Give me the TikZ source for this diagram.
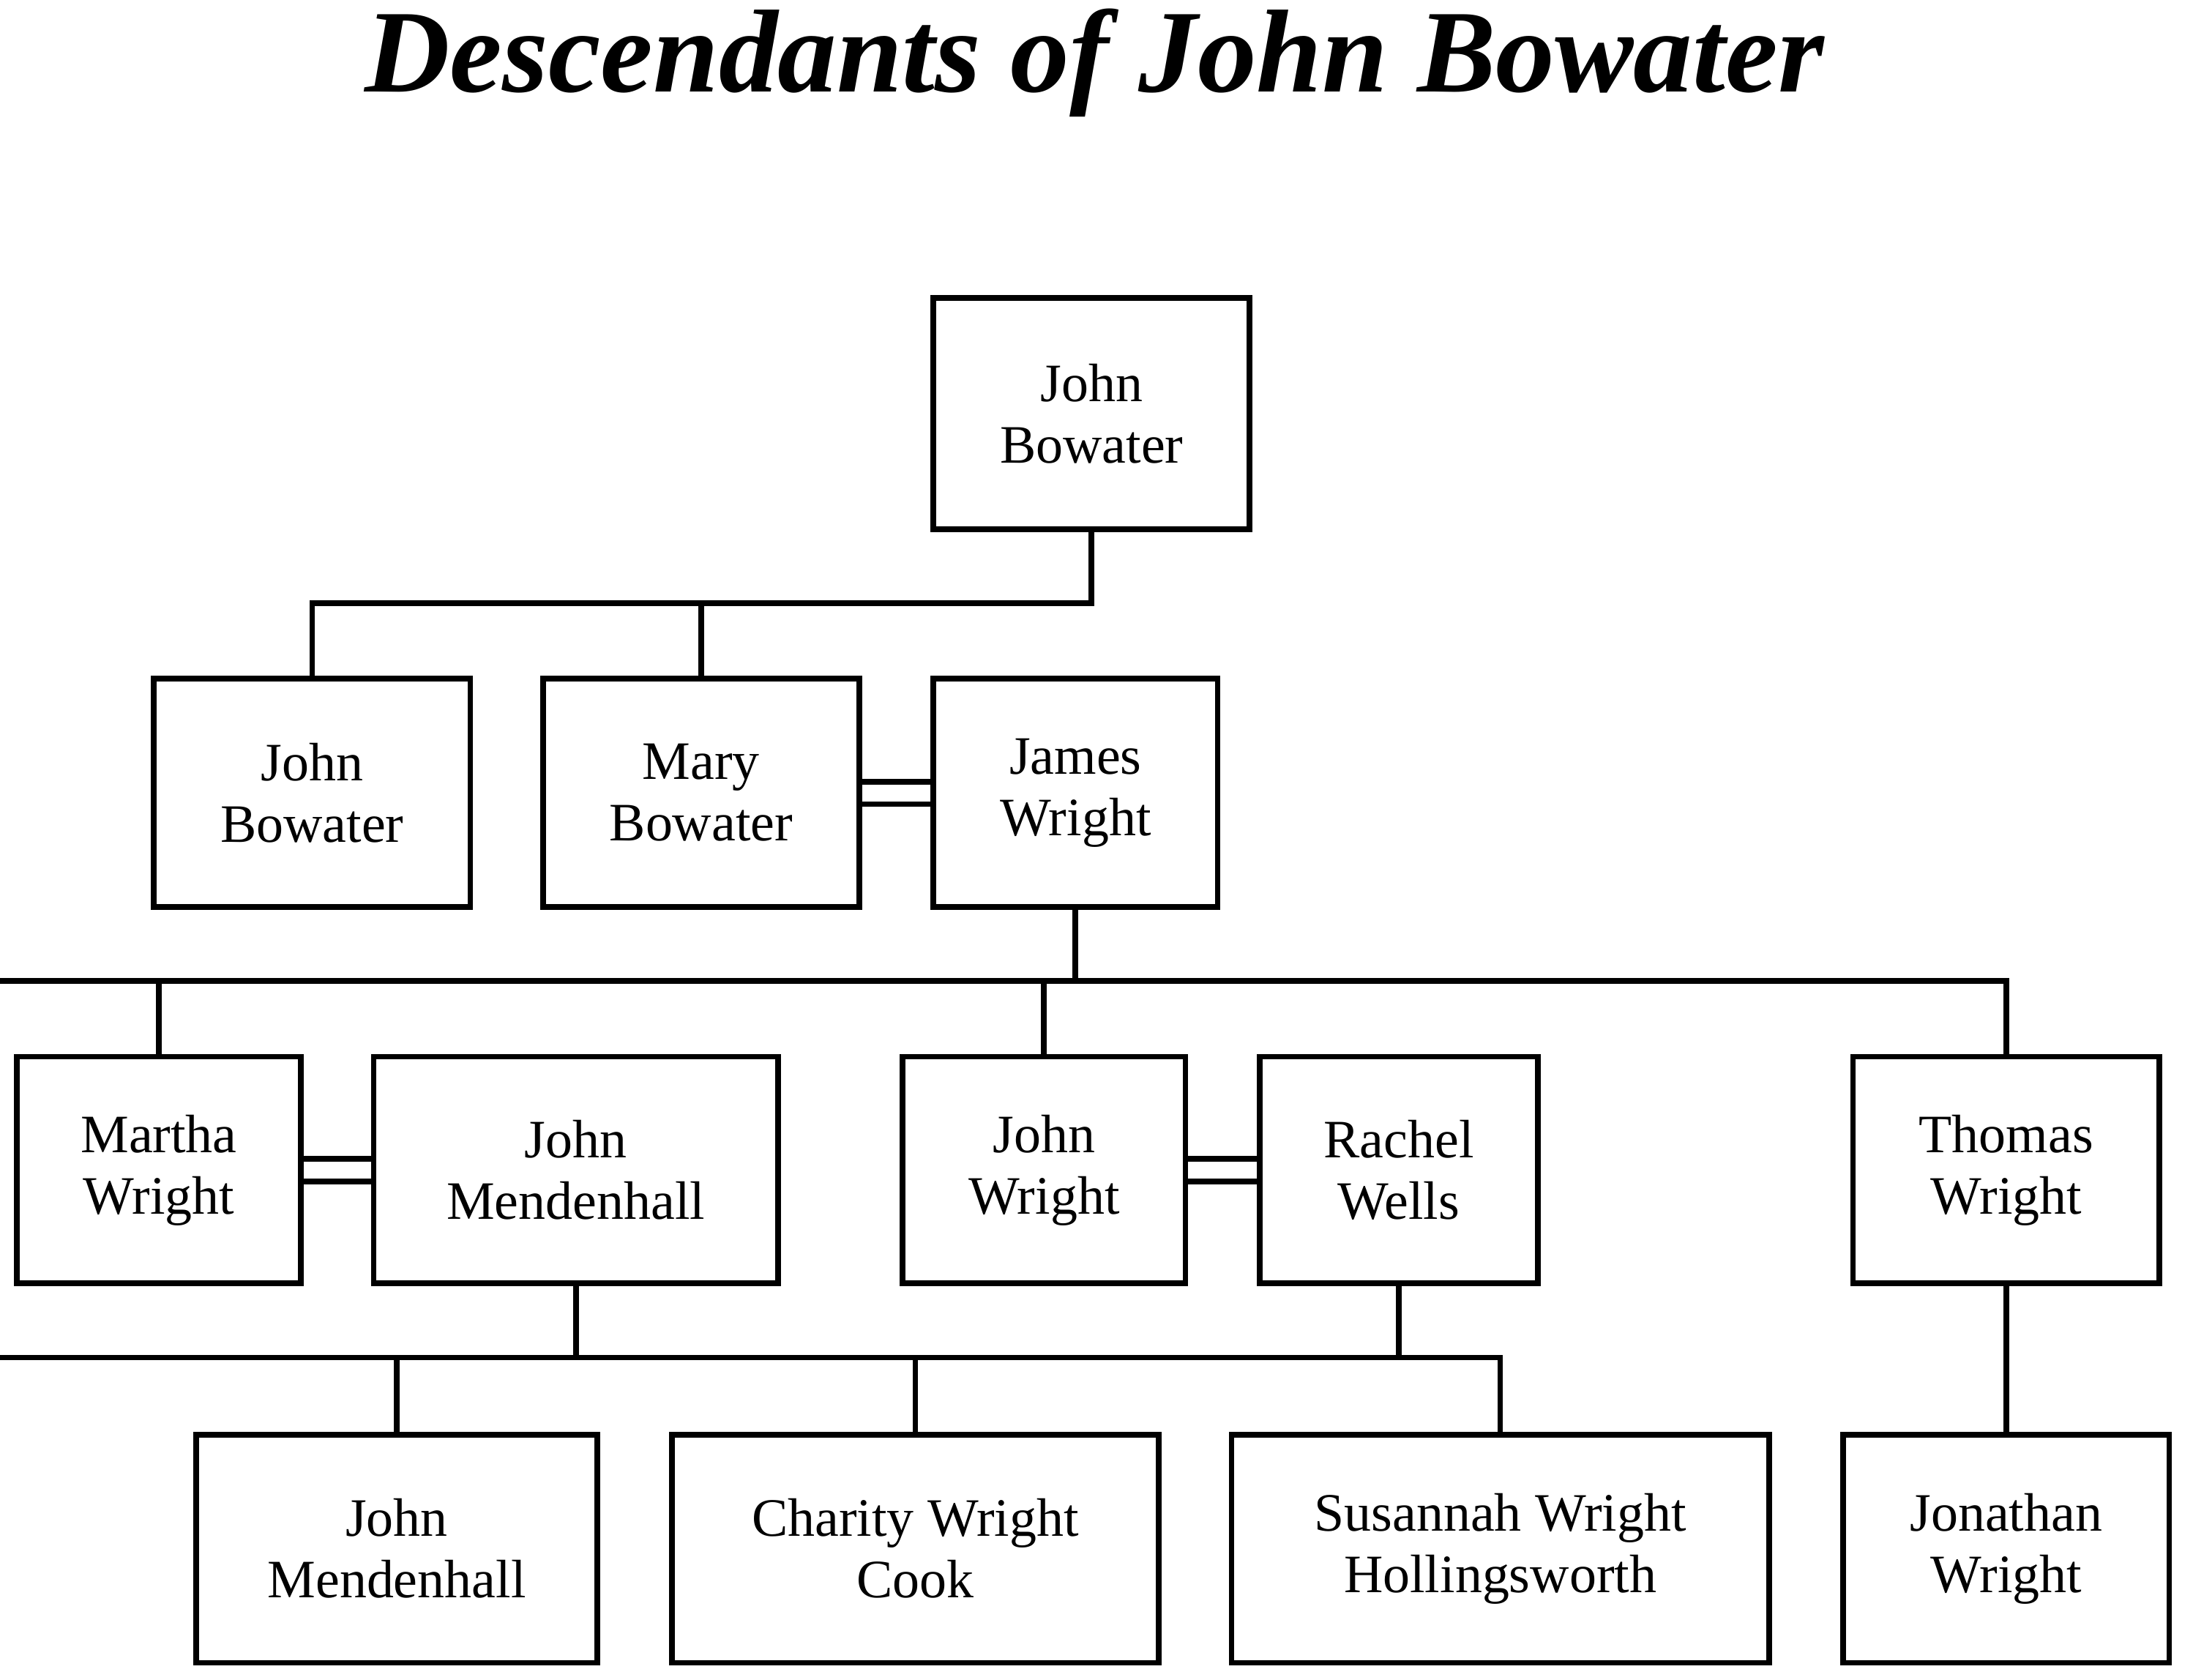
\documentclass[tikz,border=0pt]{standalone}
\usepackage{fontspec}
\setmainfont{Liberation Serif}
\begin{document}
\begin{tikzpicture}[x=0.02cm,y=-0.02cm,
  p/.style={draw,line width=2.3pt,align=center,inner sep=0pt,font=\fontsize{22}{25}\selectfont},
  l/.style={line width=2.3pt}]
\useasboundingbox (0,0) rectangle (1567,1200);
\node[font=\fontsize{48}{50}\selectfont\bfseries\itshape] (title) at (782,45) {Descendants of John Bowater};
\node[p,minimum width=4.52cm,minimum height=3.3cm] (root) at (780,295.5) {John\\Bowater};
\node[p,minimum width=4.52cm,minimum height=3.26cm] (jb1) at (223,566.5) {John\\Bowater};
\node[p,minimum width=4.52cm,minimum height=3.26cm] (mary) at (501,566.5) {Mary\\Bowater};
\node[p,minimum width=4.06cm,minimum height=3.26cm] (james) at (768.5,566.5) {James\\Wright};
\node[p,minimum width=4.06cm,minimum height=3.24cm] (martha) at (113.5,836) {Martha\\Wright};
\node[p,minimum width=5.78cm,minimum height=3.24cm] (jmend) at (411.5,836) {John\\Mendenhall};
\node[p,minimum width=4.04cm,minimum height=3.24cm] (johnw) at (746,836) {John\\Wright};
\node[p,minimum width=3.98cm,minimum height=3.24cm] (rachel) at (999.5,836) {Rachel\\Wells};
\node[p,minimum width=4.38cm,minimum height=3.24cm] (thomas) at (1433.5,836) {Thomas\\Wright};
\node[p,minimum width=5.74cm,minimum height=3.26cm] (jm2) at (283.5,1106.5) {John\\Mendenhall};
\node[p,minimum width=6.96cm,minimum height=3.26cm] (charity) at (654,1106.5) {Charity Wright\\Cook};
\node[p,minimum width=7.68cm,minimum height=3.26cm] (susannah) at (1072,1106.5) {Susannah Wright\\Hollingsworth};
\node[p,minimum width=4.66cm,minimum height=3.26cm] (jonathan) at (1433.5,1106.5) {Jonathan\\Wright};
\draw[l] (root.south) -- (root.south |- 0,431) -| (jb1.north);
\draw[l] (mary.north) -- (mary.north |- 0,431);
\draw[l] (james.south) -- (james.south |- 0,701);
\draw[l] (martha.north) |- (0,701) -| (thomas.north);
\draw[l] (martha.north |- 0,701) -- (thomas.north |- 0,701);
\draw[l] (johnw.north) -- (johnw.north |- 0,701);
\draw[l] (jmend.south) -- (jmend.south |- 0,970) -| (jm2.north);
\draw[l] (rachel.south) -- (rachel.south |- 0,970);
\draw[l] (charity.north) |- (0,970) -| (susannah.north);
\draw[l] (charity.north |- 0,970) -- (susannah.north |- 0,970);
\draw[l] (thomas.south) -- (jonathan.north);
\foreach \a/\b in {mary/james,martha/jmend,johnw/rachel}{
  \draw[l] ([yshift=0.16cm]\a.east) -- ([yshift=0.16cm]\b.west);
  \draw[l] ([yshift=-0.16cm]\a.east) -- ([yshift=-0.16cm]\b.west);
}
\end{tikzpicture}
\end{document}
